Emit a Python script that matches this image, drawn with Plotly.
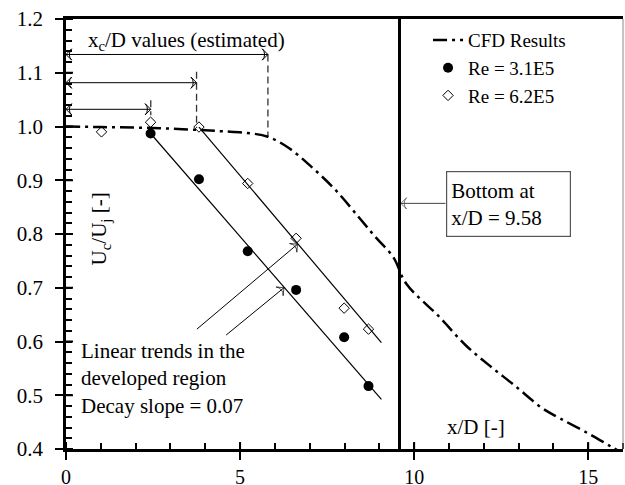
import plotly.graph_objects as go

FONT = "'Liberation Serif', 'Times New Roman', 'DejaVu Serif', serif"

# ---- data ----
cfd_x = [0, 1, 2, 3, 4, 4.5, 5.2, 5.8, 6.4, 7.05, 7.74, 8.4, 8.88, 9.4, 9.77,
         10.72, 11.48, 12.15, 12.87, 13.68, 14.19, 15.0, 15.67, 16.0]
cfd_y = [1.0, 0.999, 0.998, 0.996, 0.993, 0.991, 0.988, 0.981, 0.96, 0.925, 0.882,
         0.832, 0.795, 0.757, 0.708, 0.646, 0.593, 0.556, 0.519, 0.476, 0.457,
         0.429, 0.404, 0.392]

re31_x = [2.43, 3.82, 5.22, 6.61, 7.99, 8.69]
re31_y = [0.987, 0.902, 0.768, 0.696, 0.608, 0.517]

re62_x = [1.02, 2.43, 3.82, 5.22, 6.61, 7.99, 8.69]
re62_y = [0.990, 1.008, 0.999, 0.894, 0.792, 0.662, 0.623]

trend1_x = [2.43, 9.06]
trend1_y = [0.987, 0.4925]
trend2_x = [3.82, 9.06]
trend2_y = [0.999, 0.598]

bottom_xd = 9.58

xc_levels = [1.134, 1.0815, 1.032]
xc_values = [5.80, 3.75, 2.435]
xc_dash_top = [1.134, 1.102, 1.049]
xc_dash_bottom = [0.981, 0.997, 1.021]

ptr_tails = [(3.76, 0.623), (4.60, 0.612)]
ptr_heads = [(6.65, 0.781), (6.26, 0.700)]

bottom_arrow_x = [10.9, 9.62]
bottom_arrow_y = [0.857, 0.857]

x_ticks = [0, 5, 10, 15]
y_ticks = [0.4, 0.5, 0.6, 0.7, 0.8, 0.9, 1.0, 1.1, 1.2]

fig = go.Figure()

# dashed vertical guides for x_c/D
for xv, yt, yb in zip(xc_values, xc_dash_top, xc_dash_bottom):
    fig.add_trace(go.Scatter(x=[xv, xv], y=[yt, yb], mode="lines",
                             line=dict(color="#333333", width=1.3, dash="7px,4px"),
                             showlegend=False, hoverinfo="skip"))

# double arrows
for lv, xv in zip(xc_levels, xc_values):
    fig.add_trace(go.Scatter(x=[0, xv], y=[lv, lv], mode="lines+markers",
                             line=dict(color="black", width=1),
                             marker=dict(symbol="arrow-wide-open", size=8, angle=[270, 90],
                                         color="black", line=dict(color="black", width=1)),
                             showlegend=False, hoverinfo="skip"))

# trend lines
for tx, ty in [(trend1_x, trend1_y), (trend2_x, trend2_y)]:
    fig.add_trace(go.Scatter(x=tx, y=ty, mode="lines",
                             line=dict(color="black", width=1.2),
                             showlegend=False, hoverinfo="skip"))

# pointer arrows
for (tx, ty), (hx, hy) in zip(ptr_tails, ptr_heads):
    fig.add_trace(go.Scatter(x=[tx, hx], y=[ty, hy], mode="lines+markers",
                             line=dict(color="black", width=1),
                             marker=dict(symbol="arrow-wide-open", size=[0, 8], angleref="previous",
                                         color="black", line=dict(color="black", width=1)),
                             showlegend=False, hoverinfo="skip"))

# arrow to bottom line
fig.add_trace(go.Scatter(x=bottom_arrow_x, y=bottom_arrow_y, mode="lines+markers",
                         line=dict(color="#444444", width=1),
                         marker=dict(symbol="arrow-wide-open", size=[0, 8], angleref="previous",
                                     color="#444444", line=dict(color="#444444", width=1)),
                         showlegend=False, hoverinfo="skip"))

# vertical bottom line
fig.add_trace(go.Scatter(x=[bottom_xd, bottom_xd], y=[0.4, 1.2], mode="lines",
                         line=dict(color="black", width=3),
                         showlegend=False, hoverinfo="skip"))

# data
fig.add_trace(go.Scatter(x=re62_x, y=re62_y, mode="markers", name="Re = 6.2E5",
                         marker=dict(symbol="diamond-open", size=8, color="black",
                                     line=dict(color="black", width=1))))
fig.add_trace(go.Scatter(x=re31_x, y=re31_y, mode="markers", name="Re = 3.1E5",
                         marker=dict(symbol="circle", size=10, color="black")))
fig.add_trace(go.Scatter(x=cfd_x, y=cfd_y, mode="lines", name="CFD Results",
                         line=dict(color="black", width=2.5, dash="14px,5px,3px,5px",
                                   shape="spline")))

# crossing part of major ticks
shapes = []
for t in x_ticks:
    shapes.append(dict(type="line", xref="x", yref="paper", ysizemode="pixel", yanchor=0,
                       x0=t, x1=t, y0=0, y1=7, line=dict(color="black", width=2)))
for t in y_ticks:
    shapes.append(dict(type="line", xref="paper", yref="y", xsizemode="pixel", xanchor=0,
                       x0=0, x1=7, y0=t, y1=t, line=dict(color="black", width=2)))
shapes.append(dict(type="line", xref="paper", yref="paper", x0=1, x1=1, y0=0, y1=1,
                   line=dict(color="#888888", width=1)))

annotations = [
    dict(x=0.57, y=1.159, xref="x", yref="y", xanchor="left", yanchor="middle",
         text="x<sub>c</sub>/D values (estimated)", showarrow=False,
         font=dict(family=FONT, size=21, color="black")),
    dict(x=0.37, y=0.532, xref="x", yref="y", xanchor="left", yanchor="middle", align="left",
         text="Linear trends in the<br>developed region<br>Decay slope = 0.07", showarrow=False,
         font=dict(family=FONT, size=21, color="black")),
    dict(x=12.72, y=0.856, xref="x", yref="y", xanchor="center", yanchor="middle", align="left",
         text="Bottom at<br>x/D = 9.58", showarrow=False, width=115, height=56,
         bordercolor="#555555", borderwidth=1.2, borderpad=4, bgcolor="white",
         font=dict(family=FONT, size=21, color="black")),
    dict(x=11.77, y=0.441, xref="x", yref="y", xanchor="center", yanchor="middle",
         text="x/D [-]", showarrow=False,
         font=dict(family=FONT, size=21, color="black")),
    dict(x=0.97, y=0.81, xref="x", yref="y", xanchor="center", yanchor="middle",
         text="U<sub>c</sub>/U<sub>j</sub> [-]", showarrow=False, textangle=-90,
         font=dict(family=FONT, size=21, color="black")),
]

fig.update_layout(
    width=625, height=485,
    margin=dict(l=66, r=2, t=19, b=36, autoexpand=False),
    paper_bgcolor="white", plot_bgcolor="white",
    font=dict(family=FONT, size=21, color="black"),
    showlegend=True,
    legend=dict(x=0.65, y=0.995, xanchor="left", yanchor="top",
                bgcolor="rgba(0,0,0,0)", font=dict(family=FONT, size=19, color="black"),
                traceorder="reversed"),
    shapes=shapes,
    annotations=annotations,
    xaxis=dict(range=[0, 16], tickvals=x_ticks, ticktext=[str(t) for t in x_ticks],
               automargin=False,
               showgrid=False, zeroline=False, showline=True, linecolor="black", linewidth=2.5,
               mirror=True, ticks="outside", ticklen=8, tickwidth=2, tickcolor="black",
               ticklabelstandoff=0,
               minor=dict(dtick=1, ticks="inside", ticklen=6, tickwidth=1.5, tickcolor="black"),
               tickfont=dict(family=FONT, size=20, color="black")),
    yaxis=dict(range=[0.4, 1.2], tickvals=y_ticks, ticktext=[f"{t:.1f}" for t in y_ticks],
               automargin=False,
               showgrid=False, zeroline=False, showline=True, linecolor="black", linewidth=2.5,
               ticks="outside", ticklen=8, tickwidth=2, tickcolor="black",
               ticklabelstandoff=8,
               minor=dict(dtick=0.02, ticks="inside", ticklen=6, tickwidth=1.5, tickcolor="black"),
               tickfont=dict(family=FONT, size=21, color="black")),
)

fig.write_html("out.html", config={"displayModeBar": False},
               post_script="document.body.style.margin='0';")
